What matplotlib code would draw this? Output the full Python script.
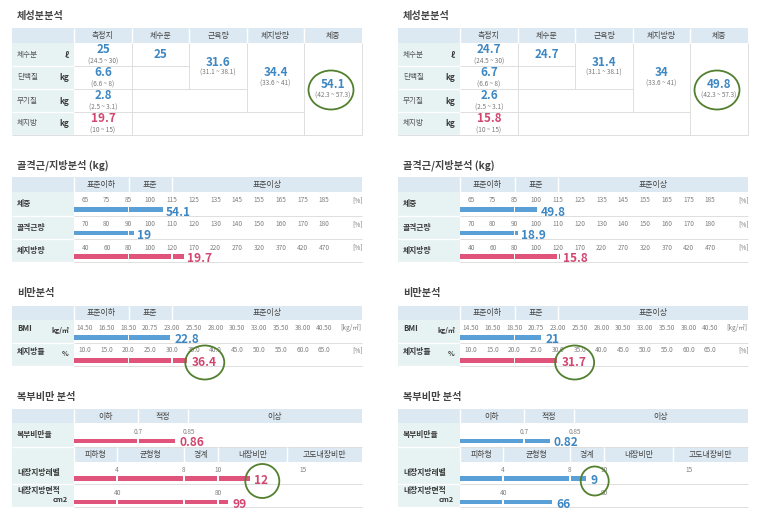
import numpy as np
import matplotlib
matplotlib.use("Agg")
import matplotlib.pyplot as plt
from matplotlib.patches import Ellipse, Rectangle

plt.rcParams['font.family'] = ['Noto Sans CJK KR', 'DejaVu Sans']

# ---------------- data ----------------
comp_title = "체성분분석"
comp_header = ["측정치", "체수분", "근육량", "체지방량", "체중"]
comp_rows = ["체수분", "단백질", "무기질", "체지방"]
comp_units = ["ℓ", "kg", "kg", "kg"]
comp_ranges = ["(24.5 ~ 30)", "(6.6 ~ 8)", "(2.5 ~ 3.1)", "(10 ~ 15)"]
comp_status = ["n", "n", "n", "o"]
comp_vals_1 = [25, 6.6, 2.8, 19.7]
comp_vals_2 = [24.7, 6.7, 2.6, 15.8]
sum_ranges = ["", "(31.1 ~ 38.1)", "(33.6 ~ 41)", "(42.3 ~ 57.3)"]
sum_vals_1 = [25, 31.6, 34.4, 54.1]      # 체수분, 근육량, 체지방량, 체중
sum_vals_2 = [24.7, 31.4, 34, 49.8]

sm_title = "골격근/지방분석 (kg)"
sm_header = ["표준이하", "표준", "표준이상"]
sm_rows = ["체중", "골격근량", "체지방량"]
sm_ticks = [[65, 75, 85, 100, 115, 125, 135, 145, 155, 165, 175, 185],
            [70, 80, 90, 100, 110, 120, 130, 140, 150, 160, 170, 180],
            [40, 60, 80, 100, 120, 170, 220, 270, 320, 370, 420, 470]]
sm_vals_1 = [54.1, 19, 19.7]
sm_pct_1 = [108.9, 92.3, 147]
sm_status_1 = ["n", "n", "o"]
sm_vals_2 = [49.8, 18.9, 15.8]
sm_pct_2 = [100.7, 91.8, 124.5]
sm_status_2 = ["n", "n", "o"]

ob_title = "비만분석"
ob_header = ["표준이하", "표준", "표준이상"]
ob_rows = ["BMI", "체지방률"]
ob_units = ["kg/㎡", "%"]
ob_ticks = [[14.5, 16.5, 18.5, 20.75, 23, 25.5, 28, 30.5, 33, 35.5, 38, 40.5],
            [10, 15, 20, 25, 30, 35, 40, 45, 50, 55, 60, 65]]
ob_tick_fmt = ["{:.2f}", "{:.1f}"]
ob_end = ["[kg/㎡]", "[%]"]
ob_vals_1 = [22.8, 36.4]
ob_bar_1 = [22.8, 33.5]
ob_status_1 = ["n", "o"]
ob_vals_2 = [21, 31.7]
ob_bar_2 = [21.2, 29.8]
ob_status_2 = ["n", "o"]

ab_title = "복부비만 분석"
ab_header1 = ["이하", "적정", "이상"]
ab_header2 = ["피하형", "균형형", "경계", "내장비만", "고도내장비만"]
ab_rows = ["복부비만율", "내장지방레벨", "내장지방면적"]
ratio_ticks = [0.7, 0.85]
level_ticks = [4, 8, 10, 15]
area_ticks = [40, 80]
ab_vals_1 = [0.86, 12, 99]
ab_bar_1 = [0.81, 11.9, 84]
ab_status_1 = ["o", "o", "o"]
ab_vals_2 = [0.82, 9, 66]
ab_bar_2 = [0.776, 8.95, 59.4]
ab_status_2 = ["n", "n", "n"]

# ---------------- style ----------------
HEAD = "#dce9f2"
LAB = "#e7f2f2"
GRID = "#dedede"
BLUE_BAR = "#5a9fd6"
PINK_BAR = "#e0537b"
BLUE_TXT = "#3d87c3"
PINK_TXT = "#d2466f"
TICK = "#808080"
DARK = "#3a3a3a"
CIRC = "#52802f"
TK = 4.7

bar_col = {"n": BLUE_BAR, "o": PINK_BAR}
txt_col = {"n": BLUE_TXT, "o": PINK_TXT}

fig = plt.figure(figsize=(7.6, 5.16), dpi=100)
ax = fig.add_axes([0, 0, 1, 1])
ax.set_xlim(0, 760)
ax.set_ylim(516, 0)
ax.axis("off")

L, R, LC = 12, 362, 74


def fmt(v):
    return f"{v:g}"


def to_x(v, vals, xs):
    vals = np.asarray(vals, float)
    xs = np.asarray(xs, float)
    if v <= vals[0]:
        s = (xs[1] - xs[0]) / (vals[1] - vals[0])
        return xs[0] + (v - vals[0]) * s
    if v >= vals[-1]:
        s = (xs[-1] - xs[-2]) / (vals[-1] - vals[-2])
        return xs[-1] + (v - vals[-1]) * s
    return float(np.interp(v, vals, xs))


def hline(x0, x1, y, c=GRID, lw=0.7):
    ax.plot([x0, x1], [y, y], color=c, lw=lw, solid_capstyle="butt")


def vline(x, y0, y1, c=GRID, lw=0.7):
    ax.plot([x, x], [y0, y1], color=c, lw=lw, solid_capstyle="butt")


def draw_bar(y, x0, x1, bounds, color, h=4.2, gap=1.4):
    edges = [x0] + [b for b in bounds if x0 + 1 < b < x1 - 1] + [x1]
    for a, b in zip(edges[:-1], edges[1:]):
        s = a + (gap / 2 if a != x0 else 0)
        e = b - (gap / 2 if b != x1 else 0)
        ax.barh(y, e - s, left=s, height=h, color=color, linewidth=0)


def header_row(ox, y0, y1, bounds, labels, left_color=HEAD):
    ax.add_patch(Rectangle((ox + L, y0), LC - L, y1 - y0, color=left_color, lw=0))
    ax.add_patch(Rectangle((ox + LC, y0), R - LC, y1 - y0, color=HEAD, lw=0))
    vline(ox + LC, y0, y1, "white", 1.0)
    for b in bounds[1:-1]:
        vline(ox + b, y0, y1, "white", 1.0)
    for a, b, t in zip(bounds[:-1], bounds[1:], labels):
        ax.text(ox + (a + b) / 2, (y0 + y1) / 2, t, ha="center", va="center",
                fontsize=5.7, color="#454545")


def label_cells(ox, ys):
    for a, b in zip(ys[:-1], ys[1:]):
        ax.add_patch(Rectangle((ox + L, a), LC - L, b - a, color=LAB, lw=0))
        hline(ox + L, ox + LC, b, "white", 1.0)
        hline(ox + LC, ox + R, b, GRID, 0.7)


def title(ox, y, t):
    ax.text(ox + 17, y, t, ha="left", va="center", fontsize=7.3,
            fontweight="bold", color="#444444")


circles = []


def value_text(x, y, v, st, size=8.2):
    return ax.text(x, y, v, ha="left", va="center", fontsize=size,
                   fontweight="bold", color=txt_col[st])


def panel(ox, comp_vals, sum_vals, sm_vals, sm_pct, sm_st, ob_vals, ob_bar, ob_st,
          ab_vals, ab_bar, ab_st):
    # ---------- section 1 ----------
    title(ox, 16, comp_title)
    cols = [LC, 132, 189, 247, 304, R]
    header_row(ox, 28, 43, cols, comp_header)
    rows = [43, 66, 89, 112, 135]
    for i, (a, b) in enumerate(zip(rows[:-1], rows[1:])):
        ax.add_patch(Rectangle((ox + L, a), LC - L, b - a, color=LAB, lw=0))
        hline(ox + L, ox + LC, b, "white", 1.0)
        hline(ox + LC, ox + 132, b)
        ax.text(ox + 17, (a + b) / 2, comp_rows[i], ha="left", va="center",
                fontsize=5.5, color="#555555")
        ax.text(ox + 69, (a + b) / 2 + 0.5, comp_units[i], ha="right", va="center",
                fontsize=5.8, fontweight="bold", color=DARK)
        ax.text(ox + 103, a + 6.5, fmt(comp_vals[i]), ha="center", va="center",
                fontsize=8.4, fontweight="bold", color=txt_col[comp_status[i]])
        ax.text(ox + 103, a + 18.5, comp_ranges[i], ha="center", va="center",
                fontsize=4.6, color="#777777")
    vline(ox + 132, 43, 135)
    hline(ox + 132, ox + 189, 66)
    vline(ox + 189, 43, 89)
    hline(ox + 132, ox + 247, 89)
    vline(ox + 247, 43, 112)
    hline(ox + 132, ox + 304, 112)
    vline(ox + 304, 43, 135)
    hline(ox + L, ox + R, 135)
    vline(ox + R, 43, 135)
    sx = [160.5, 218, 275.5, 333]
    sy = [55, 62, 73, 85]
    for k in range(4):
        ax.text(ox + sx[k], sy[k], fmt(sum_vals[k]), ha="center", va="center",
                fontsize=8.4, fontweight="bold", color=BLUE_TXT)
        if sum_ranges[k]:
            ax.text(ox + sx[k], sy[k] + 11, sum_ranges[k], ha="center", va="center",
                    fontsize=4.6, color="#777777")
    circles.append(("xy", ox + 331, 90, 45, 39))

    # ---------- section 2 ----------
    title(ox, 165, sm_title)
    txs = [85 + 21.75 * i for i in range(12)]
    b2 = [LC, txs[2], txs[4], R]
    header_row(ox, 177, 192, b2, sm_header)
    rows = [192, 215.5, 239, 262]
    label_cells(ox, rows)
    for i, (a, b) in enumerate(zip(rows[:-1], rows[1:])):
        ax.text(ox + 17, (a + b) / 2, sm_rows[i], ha="left", va="center",
                fontsize=5.6, fontweight="bold", color=DARK)
        for t, x in zip(sm_ticks[i], txs):
            ax.text(ox + x, a + 8.5, str(t), ha="center", va="center",
                    fontsize=TK, color=TICK)
        ax.text(ox + 358, a + 8.5, "[%]", ha="center", va="center", fontsize=TK, color=TICK)
        xe = to_x(sm_pct[i], sm_ticks[i], txs)
        draw_bar(a + 17.5, ox + LC, ox + xe, [ox + txs[2], ox + txs[4]], bar_col[sm_st[i]])
        value_text(ox + xe + 3, a + 20, fmt(sm_vals[i]), sm_st[i], 8.6)

    # ---------- section 3 ----------
    title(ox, 293, ob_title)
    header_row(ox, 306, 320, b2, ob_header)
    rows = [320, 343, 366]
    label_cells(ox, rows)
    for i, (a, b) in enumerate(zip(rows[:-1], rows[1:])):
        ax.text(ox + 17, a + 8.5, ob_rows[i], ha="left", va="center",
                fontsize=5.6, fontweight="bold", color=DARK)
        ax.text(ox + 69, a + 11, ob_units[i], ha="right", va="center",
                fontsize=5.0, fontweight="bold", color=DARK)
        for t, x in zip(ob_ticks[i], txs):
            ax.text(ox + x, a + 7.5, ob_tick_fmt[i].format(t), ha="center", va="center",
                    fontsize=TK, color=TICK)
        ax.text(ox + (351 if i == 0 else 358), a + 7.5, ob_end[i], ha="center",
                va="center", fontsize=TK, color=TICK)
        xe = to_x(ob_bar[i], ob_ticks[i], txs)
        draw_bar(a + 17.5, ox + LC, ox + xe, [ox + txs[2], ox + txs[4]], bar_col[ob_st[i]])
        t = value_text(ox + xe + 5, a + 19.5, fmt(ob_vals[i]), ob_st[i], 8.6)
        if i == 1:
            circles.append(("text", t, 0, 39, 34))

    # ---------- section 4 ----------
    title(ox, 397, ab_title)
    h1 = [LC, 138, 188, R]
    header_row(ox, 409, 423, h1, ab_header1)
    label_cells(ox, [423, 447])
    ax.text(ox + 17, 435, ab_rows[0], ha="left", va="center",
            fontsize=5.6, fontweight="bold", color=DARK)
    rxs = [138, 189]
    for t, x in zip(ratio_ticks, rxs):
        ax.text(ox + x, 432, fmt(t), ha="center", va="center", fontsize=TK, color=TICK)
    xe = to_x(ab_bar[0], ratio_ticks, rxs)
    draw_bar(441, ox + LC, ox + xe, [ox + 138, ox + 188], bar_col[ab_st[0]])
    value_text(ox + xe + 4, 443, fmt(ab_vals[0]), ab_st[0], 8.6)

    h2 = [LC, 117, 184, 218, 287, R]
    header_row(ox, 447, 462, h2, ab_header2, left_color=LAB)
    rows = [462, 484, 507]
    label_cells(ox, rows)
    gaps = [ox + 117, ox + 184, ox + 218, ox + 287]
    # level
    ax.text(ox + 17, 473, ab_rows[1], ha="left", va="center",
            fontsize=5.6, fontweight="bold", color=DARK)
    lxs = [117, 184, 218, 303]
    for t, x in zip(level_ticks, lxs):
        ax.text(ox + x, 470, fmt(t), ha="center", va="center", fontsize=TK, color=TICK)
    xe = to_x(ab_bar[1], level_ticks, lxs)
    draw_bar(478.5, ox + LC, ox + xe, gaps, bar_col[ab_st[1]])
    t = value_text(ox + xe + 4, 481, fmt(ab_vals[1]), ab_st[1], 8.6)
    circles.append(("text", t, 1, 34 if ox == 0 else 28, 34 if ox == 0 else 29))
    # area
    ax.text(ox + 17, 491, ab_rows[2], ha="left", va="center",
            fontsize=5.6, fontweight="bold", color=DARK)
    ax.text(ox + 68, 500, "cm2", ha="right", va="center",
            fontsize=5.2, fontweight="bold", color=DARK)
    axs = [117, 218]
    for tk, x in zip(area_ticks, axs):
        ax.text(ox + x, 493, fmt(tk), ha="center", va="center", fontsize=TK, color=TICK)
    xe = to_x(ab_bar[2], area_ticks, axs)
    draw_bar(502, ox + LC, ox + xe, gaps, bar_col[ab_st[2]])
    value_text(ox + xe + 4, 504, fmt(ab_vals[2]), ab_st[2], 8.6)


panel(0, comp_vals_1, sum_vals_1, sm_vals_1, sm_pct_1, sm_status_1,
      ob_vals_1, ob_bar_1, ob_status_1, ab_vals_1, ab_bar_1, ab_status_1)
panel(386, comp_vals_2, sum_vals_2, sm_vals_2, sm_pct_2, sm_status_2,
      ob_vals_2, ob_bar_2, ob_status_2, ab_vals_2, ab_bar_2, ab_status_2)

# circles (hand-drawn annotations) around highlighted values
fig.canvas.draw()
inv = ax.transData.inverted()
for c in circles:
    if c[0] == "xy":
        _, cx, cy, w, h = c
    else:
        _, t, dx, w, h = c
        bb = t.get_window_extent()
        (x0, y0), (x1, y1) = inv.transform([(bb.x0, bb.y0), (bb.x1, bb.y1)])
        cx, cy = (x0 + x1) / 2 + dx, (y0 + y1) / 2
    ax.add_patch(Ellipse((cx, cy), w, h, fill=False, edgecolor=CIRC, lw=1.3, zorder=5))

fig.savefig("out.png", dpi=100, facecolor="white")
